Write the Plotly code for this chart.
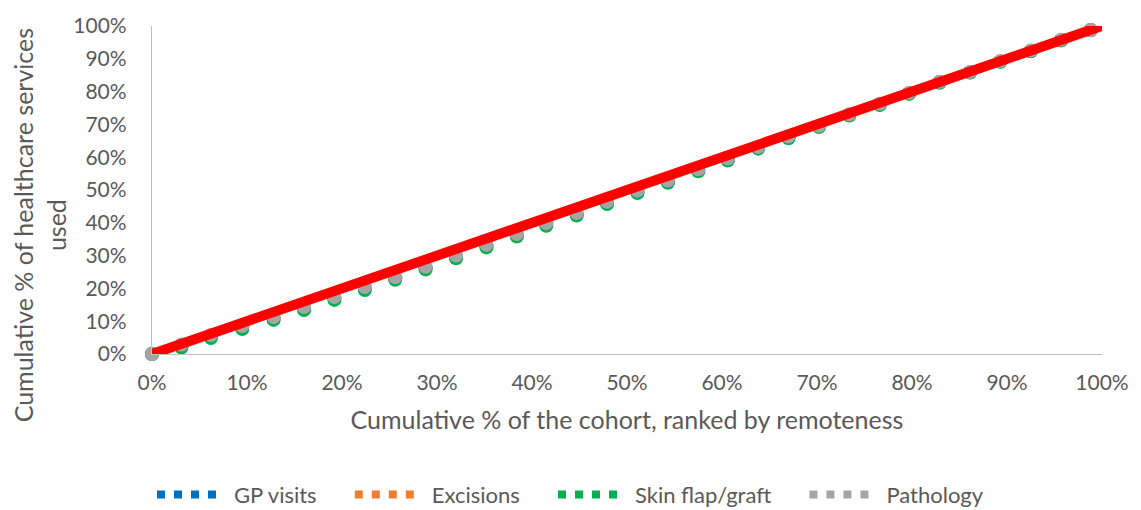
import plotly.graph_objects as go

# Cumulative share of the cohort (ranked by remoteness) and of each service used, in %
cohort_pct = [0, 3.1, 6.2, 9.5, 12.8, 16.0, 19.2, 22.4, 25.6, 28.8, 32.0, 35.2, 38.4, 41.5, 44.7, 47.9,
              51.1, 54.3, 57.5, 60.6, 63.8, 67.0, 70.2, 73.4, 76.6, 79.7, 82.9, 86.1, 89.3, 92.5, 95.7, 98.8]
gp_visits = [0, 2.6, 5.5, 8.2, 11.0, 14.0, 17.1, 20.1, 23.1, 26.3, 29.7, 33.0, 36.3, 39.6, 42.7, 46.1,
             49.5, 52.6, 56.1, 59.4, 62.9, 66.1, 69.4, 72.9, 76.1, 79.5, 82.9, 85.9, 89.2, 92.4, 95.7, 98.8]
excisions = [0, 2.6, 5.5, 8.2, 11.0, 14.0, 17.1, 20.1, 23.1, 26.3, 29.7, 33.0, 36.3, 39.6, 42.7, 46.1,
             49.5, 52.6, 56.1, 59.4, 62.9, 66.1, 69.4, 72.9, 76.1, 79.5, 82.9, 85.9, 89.2, 92.4, 95.7, 98.8]
skin_flap = [0, 2.0, 4.9, 7.6, 10.4, 13.4, 16.5, 19.5, 22.6, 25.8, 29.2, 32.5, 35.8, 39.1, 42.2, 45.7,
             49.1, 52.2, 55.7, 59.0, 62.6, 65.8, 69.2, 72.7, 75.9, 79.3, 82.7, 85.8, 89.1, 92.3, 95.6, 98.7]
pathology = [0, 2.9, 5.8, 8.5, 11.3, 14.3, 17.4, 20.4, 23.4, 26.6, 30.0, 33.3, 36.6, 39.9, 43.0, 46.4,
             49.8, 52.9, 56.3, 59.6, 63.1, 66.3, 69.6, 73.1, 76.3, 79.6, 83.0, 86.0, 89.3, 92.5, 95.8, 98.8]

# Line of equality
equality_x = [0, 100]
equality_y = [0, 100]

tick_vals = [0, 10, 20, 30, 40, 50, 60, 70, 80, 90, 100]
tick_text = ["0%", "10%", "20%", "30%", "40%", "50%", "60%", "70%", "80%", "90%", "100%"]

series = [
    ("GP visits", gp_visits, "#0070C0"),
    ("Excisions", excisions, "#ED7D31"),
    ("Skin flap/graft", skin_flap, "#00B050"),
    ("Pathology", pathology, "#A5A5A5"),
]

FONT = "Lato"
TEXT = "#595959"
NBSP = "\u00a0"

fig = go.Figure()

for name, values, color in series:
    fig.add_trace(go.Scatter(
        x=cohort_pct, y=values, mode="markers", name=name, legendgroup=name,
        showlegend=False, cliponaxis=False,
        marker=dict(size=14, color=color, line=dict(width=0)),
    ))

fig.add_trace(go.Scatter(
    x=equality_x, y=equality_y, mode="lines", showlegend=False,
    line=dict(color="#FF0000", width=10), cliponaxis=False,
))

# Legend entries drawn as a row of four dots, with extra room after each label
for i, (name, values, color) in enumerate(series):
    label = name + (NBSP * 5 if i < len(series) - 1 else "")
    fig.add_trace(go.Scatter(
        x=[None], y=[None], mode="lines", name=label, legendgroup=name,
        line=dict(color=color, width=8, dash="8px,9px,8px,9px,8px,9px,8px,100px"),
    ))

axis_common = dict(
    showgrid=False, zeroline=False, showline=True, linecolor="#BFBFBF", linewidth=1.3,
    tickvals=tick_vals, ticktext=tick_text, ticks="",
    tickfont=dict(family=FONT, size=21, color=TEXT),
)

fig.update_xaxes(range=[0, 100], ticklabelstandoff=10,
                 title=dict(text="Cumulative % of the cohort, ranked by remoteness",
                            font=dict(family=FONT, size=25, color=TEXT), standoff=18),
                 **axis_common)
fig.update_yaxes(range=[0, 100], ticklabelstandoff=20, **axis_common)

fig.add_annotation(
    text="Cumulative % of healthcare services<br>used",
    xref="paper", yref="paper", x=-0.118, y=0.392, xanchor="center", yanchor="middle",
    textangle=-90, showarrow=False, font=dict(family=FONT, size=25, color=TEXT),
)

fig.update_layout(
    width=1141, height=510,
    margin=dict(l=152, r=35, t=20, b=156),
    paper_bgcolor="white", plot_bgcolor="white",
    legend=dict(orientation="h", xref="container", yref="container",
                x=0.5, xanchor="center", y=0.03, yanchor="middle", itemwidth=72,
                font=dict(family=FONT, size=22, color=TEXT)),
)

fig.write_html("out.html")
